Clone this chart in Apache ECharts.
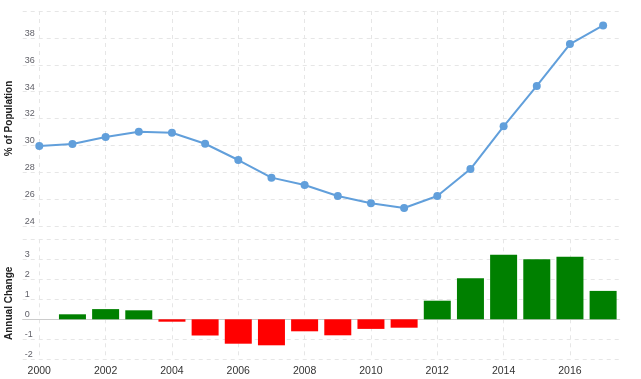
<!DOCTYPE html>
<html>
<head>
<meta charset="utf-8">
<script src="https://cdn.jsdelivr.net/npm/echarts@6/dist/echarts.min.js"></script>
<style>
html,body{margin:0;padding:0;background:#fff;}
#chart{width:641px;height:379px;}
</style>
</head>
<body>
<div id="chart"></div>
<script>
var years = [2000,2001,2002,2003,2004,2005,2006,2007,2008,2009,2010,2011,2012,2013,2014,2015,2016,2017];
var population = [29.95,30.1,30.62,31.02,30.94,30.12,28.91,27.6,27.05,26.23,25.7,25.34,26.23,28.24,31.42,34.42,37.54,38.93];
var annualChange = [null,0.25,0.51,0.45,-0.12,-0.81,-1.22,-1.3,-0.6,-0.8,-0.48,-0.42,0.93,2.05,3.23,3.0,3.13,1.42];
var xTicks = [2000,2002,2004,2006,2008,2010,2012,2014,2016];

var font = '"Liberation Sans", Arial, sans-serif';
var gridColor = '#e6e6e6';

var linePoints = years.map(function(y,i){return [y, population[i]];});
var barPoints = years.map(function(y,i){return [y, annualChange[i]];}).filter(function(p){return p[1]!==null;});

var chart = echarts.init(document.getElementById('chart'), null, {renderer:'canvas'});
chart.setOption({
  animation:false,
  backgroundColor:'#fff',
  grid:[
    {left:22.7, right:21.3, top:11, height:215, containLabel:false, outerBoundsMode:'none'},
    {left:22.7, right:21.3, top:239.3, height:120, containLabel:false, outerBoundsMode:'none'}
  ],
  xAxis:[
    {gridIndex:0, type:'value', min:1999.5, max:2017.5,
      axisLine:{show:false}, axisTick:{show:false, customValues:xTicks},
      axisLabel:{show:false, customValues:xTicks},
      splitLine:{show:true, lineStyle:{color:gridColor, type:[4,4], width:1}}},
    {gridIndex:1, type:'value', min:1999.5, max:2017.5,
      axisLine:{show:false, onZero:false}, axisTick:{show:false, customValues:xTicks},
      axisLabel:{show:true, customValues:xTicks, margin:6, color:'#333', fontSize:10.5, fontFamily:font,
        formatter:function(v){return String(v);}},
      splitLine:{show:true, lineStyle:{color:gridColor, type:[4,4], width:1}}},
    {gridIndex:1, type:'value', min:1999.5, max:2017.5,
      axisLine:{show:true, onZero:true, onZeroAxisIndex:1, lineStyle:{color:'#cccccc', width:1}},
      axisTick:{show:false}, axisLabel:{show:false}, splitLine:{show:false}}
  ],
  yAxis:[
    {gridIndex:0, type:'value', min:24, max:40, interval:2,
      name:'% of Population', nameLocation:'middle', nameRotate:90, nameGap:5,
      nameTextStyle:{fontSize:10, fontWeight:'bold', color:'#222', fontFamily:font},
      axisLine:{show:false}, axisTick:{show:false},
      axisLabel:{inside:true, margin:2, verticalAlign:'bottom', showMaxLabel:false, color:'#606068', fontSize:9, fontFamily:font},
      splitLine:{show:true, lineStyle:{color:gridColor, type:[4,4], width:1}}},
    {gridIndex:1, type:'value', min:-2, max:4, interval:1,
      name:'Annual Change', nameLocation:'middle', nameRotate:90, nameGap:5,
      nameTextStyle:{fontSize:10, fontWeight:'bold', color:'#222', fontFamily:font, padding:[0,8,0,0]},
      axisLine:{show:false}, axisTick:{show:false},
      axisLabel:{inside:true, margin:2, verticalAlign:'bottom', showMaxLabel:false, color:'#606068', fontSize:9, fontFamily:font},
      splitLine:{show:true, lineStyle:{color:gridColor, type:[4,4], width:1}}}
  ],
  series:[
    {type:'line', xAxisIndex:0, yAxisIndex:0, data:linePoints,
      symbol:'circle', symbolSize:8, showSymbol:true,
      lineStyle:{color:'#619fdb', width:2},
      itemStyle:{color:'#619fdb'}},
    {type:'bar', xAxisIndex:1, yAxisIndex:1, data:barPoints, barWidth:27,
      itemStyle:{borderWidth:0,
        color:function(p){return p.value[1] >= 0 ? '#008000' : '#ff0000';}}}
  ]
});
</script>
</body>
</html>
